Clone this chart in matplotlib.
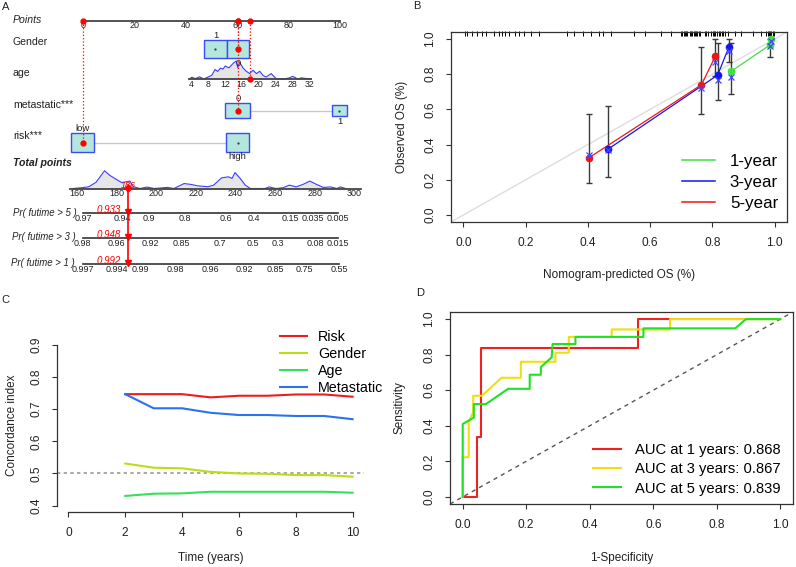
import numpy as np
import matplotlib.pyplot as plt
from matplotlib.lines import Line2D
from matplotlib.patches import Rectangle

plt.rcParams['font.family'] = ['Liberation Sans', 'DejaVu Sans']

W, H = 796, 567

# ---------------- A: nomogram ----------------
points_ticks = [0, 20, 40, 60, 80, 100]

gender_levels = ['1', '0']
gender_points = [51.6, 60.3]
gender_share = [0.5, 0.5]

age_ticks = [4, 8, 12, 16, 20, 24, 28, 32]
age_points_at_4, age_points_at_32 = 42.1, 88.0
age_grid = [3.6, 4.2, 5.0, 6.0, 7.0, 8.9, 9.7, 10.3, 11.0, 11.6, 12.1, 13.0, 14.0, 14.7, 15.1, 15.5,
            16.3, 17.1, 17.9, 18.7, 19.5, 20.3, 21.1, 21.8, 23.0, 24.2, 26.0, 27.3, 28.1, 29.3, 30.1, 32.5]
age_density = [0.0, 0.1, 0.02, 0.12, 0.0, 0.2, 0.53, 0.42, 0.6, 0.55, 0.72, 0.62, 0.87, 1.0, 0.62, 0.94,
               0.62, 0.43, 0.3, 0.49, 0.3, 0.43, 0.19, 0.11, 0.3, 0.02, 0.0, 0.06, 0.15, 0.0, 0.06, 0.0]

meta_levels = ['0', '1']
meta_points = [60.3, 99.8]
meta_share = [0.6, 0.2]

risk_levels = ['low', 'high']
risk_points = [0.0, 60.2]
risk_share = [0.5, 0.5]

total_ticks = [160, 180, 200, 220, 240, 260, 280, 300]
total_grid = [158, 163, 166, 169.6, 173.9, 176.5, 179, 182.5, 185, 186.7, 188.4, 191.9, 195.3, 199,
              205.6, 209, 214.1, 217.6, 221, 226.2, 229, 233, 236.5, 238.3, 239.8, 242.4, 245, 247.6,
              255, 257, 260.4, 264, 267.3, 270.7, 274.1, 277.6, 281, 284.4, 288, 291.3, 293, 295.6]
total_density = [0.0, 0.05, 0.1, 0.35, 1.0, 0.75, 0.57, 0.34, 0.38, 0.42, 0.1, 0.0, 0.08, 0.0,
                 0.06, 0.0, 0.28, 0.23, 0.15, 0.1, 0.19, 0.6, 0.66, 0.57, 0.9, 0.57, 0.19, 0.0,
                 0.0, 0.09, 0.0, 0.04, 0.19, 0.09, 0.23, 0.42, 0.23, 0.06, 0.09, 0.0, 0.09, 0.0]

pr5_labels = ['0.97', '0.94', '0.9', '0.8', '0.6', '0.4', '0.15', '0.035', '0.005']
pr5_total = [163.2, 183.0, 196.4, 214.5, 235.0, 249.4, 267.6, 279.2, 291.6]
pr3_labels = ['0.98', '0.96', '0.92', '0.85', '0.7', '0.5', '0.3', '0.08', '0.015']
pr3_total = [162.8, 180.1, 196.9, 212.9, 232.2, 248.7, 261.6, 280.2, 291.9]
pr1_labels = ['0.997', '0.994', '0.99', '0.98', '0.96', '0.92', '0.85', '0.75', '0.55']
pr1_total = [163.2, 180.1, 192.2, 209.9, 227.6, 244.3, 260.4, 274.7, 292.4]

patient_gender, patient_age, patient_meta, patient_risk = '0', 18, '0', 'low'
patient_prob = [0.933, 0.948, 0.992]   # 5, 3, 1 year

# ---------------- B: calibration ----------------
cal1_x = [0.86, 0.985, 0.988]
cal1_y = [0.816, 0.966, 1.0]
cal1_lo = [0.688, 0.90, 1.0]
cal1_hi = [0.975, 1.0, 1.0]
cal1_corr = [0.786, 0.96, 0.99]

cal3_x = [0.464, 0.817, 0.853]
cal3_y = [0.373, 0.795, 0.953]
cal3_lo = [0.218, 0.653, 0.868]
cal3_hi = [0.619, 0.975, 1.0]
cal3_corr = [0.37, 0.767, 0.93]

cal5_x = [0.404, 0.765, 0.81]
cal5_y = [0.326, 0.74, 0.903]
cal5_lo = [0.184, 0.572, 0.79]
cal5_hi = [0.574, 0.953, 1.0]
cal5_corr = [0.34, 0.72, 0.868]

rug_x = [0.006, 0.012, 0.028, 0.044, 0.060, 0.071, 0.098, 0.114, 0.125, 0.135, 0.146, 0.167, 0.178,
         0.195, 0.216, 0.243, 0.334, 0.356, 0.383, 0.410, 0.436, 0.447, 0.474, 0.549, 0.582, 0.635,
         0.668, 0.700, 0.704, 0.708, 0.712, 0.716, 0.720, 0.727, 0.731, 0.735, 0.740, 0.744, 0.748,
         0.752, 0.757, 0.761, 0.775, 0.780, 0.786, 0.797, 0.801, 0.806, 0.810, 0.815, 0.820, 0.825,
         0.830, 0.835, 0.840, 0.850, 0.872, 0.893, 0.931, 0.958, 0.974, 0.978, 0.982, 0.986, 0.990,
         0.994, 0.998]

# ---------------- C: C-index over time ----------------
years = [2, 3, 4, 5, 6, 7, 8, 9, 10]
cidx_risk = [0.747, 0.747, 0.747, 0.737, 0.742, 0.742, 0.746, 0.746, 0.739]
cidx_gender = [0.531, 0.518, 0.516, 0.505, 0.500, 0.499, 0.495, 0.495, 0.490]
cidx_age = [0.430, 0.437, 0.438, 0.443, 0.443, 0.443, 0.443, 0.443, 0.440]
cidx_meta = [0.747, 0.703, 0.703, 0.689, 0.682, 0.682, 0.679, 0.679, 0.669]

# ---------------- D: time-dependent ROC ----------------
roc1_fpr = [0, 0.045, 0.045, 0.059, 0.059, 0.551, 0.551, 1.0]
roc1_tpr = [0, 0, 0.339, 0.339, 0.839, 0.839, 1.0, 1.0]
roc3_fpr = [0, 0, 0.019, 0.019, 0.033, 0.033, 0.061, 0.122, 0.183, 0.183, 0.292, 0.292, 0.334, 0.334,
            0.469, 0.469, 0.653, 0.653, 1.0]
roc3_tpr = [0, 0.223, 0.223, 0.423, 0.476, 0.569, 0.569, 0.670, 0.670, 0.760, 0.760, 0.811, 0.811, 0.90,
            0.90, 0.942, 0.942, 1.0, 1.0]
roc5_fpr = [0, 0, 0.035, 0.035, 0.073, 0.143, 0.211, 0.211, 0.246, 0.246, 0.28, 0.283, 0.355, 0.355,
            0.569, 0.569, 0.858, 0.892, 1.0]
roc5_tpr = [0, 0.41, 0.446, 0.522, 0.522, 0.608, 0.608, 0.687, 0.687, 0.730, 0.785, 0.86, 0.86, 0.90,
            0.90, 0.948, 0.948, 1.0, 1.0]
auc_labels = ['AUC at 1 years: 0.868', 'AUC at 3 years: 0.867', 'AUC at 5 years: 0.839']

# =====================================================================
fig = plt.figure(figsize=(W / 100, H / 100), dpi=100)


def px_axes(left, top, right, bottom):
    return fig.add_axes([left / W, 1 - bottom / H, (right - left) / W, (bottom - top) / H])


def r_style(ax, xt, xl, yt, yl):
    ax.set_xticks(xt, xl)
    ax.set_yticks(yt, yl)
    for s in ax.spines.values():
        s.set_color('#333333')
        s.set_linewidth(0.9)
    ax.tick_params(length=3.5, width=0.8, colors='#333333', labelsize=8.6, pad=7,
                   labelcolor='#222222')
    ax.tick_params(axis='y', labelrotation=90)
    for lab in ax.get_yticklabels():
        lab.set_va('center')


red = '#FF0000'
txt = '#222222'
axis_col = '#444444'

# ---- panel A ----
ax = px_axes(0, 0, 400, 280)
ax.set_xlim(0, 400)
ax.set_ylim(280, 0)
ax.axis('off')


def x_pts(p):
    return 82.7 + 2.573 * np.asarray(p, float)


def age_to_pts(a):
    return age_points_at_4 + (np.asarray(a, float) - 4) * (age_points_at_32 - age_points_at_4) / 28


def x_tot(t):
    return 77 + 1.98 * (np.asarray(t, float) - 160)


lab_kw = dict(fontsize=7.6, color=txt, va='center', ha='left')
tick_kw = dict(fontsize=6.5, color=txt, ha='center', va='top')

points_y = 21
ax.text(13, 20, 'Points', style='italic', **lab_kw)
ax.plot(x_pts([0, 100]), [points_y, points_y], color=axis_col, lw=1.3)
for t in points_ticks:
    ax.text(x_pts(t), points_y + 0.5, str(t), **tick_kw)


def factor_row(label, y_lab, y_box, levels, pts, share, hmax):
    ax.text(13, y_lab, label, **lab_kw)
    xs = x_pts(pts)
    ax.plot([xs.min(), xs.max()], [y_box, y_box], color='#C8C8C8', lw=1, zorder=1)
    for i, (lev, x, s) in enumerate(zip(levels, xs, share)):
        w = 32 * np.sqrt(s)
        h = min(26 * np.sqrt(s), hmax)
        ax.add_patch(Rectangle((x - w / 2, y_box - h / 2), w, h, fc='#B3E6DD', ec='#3A4CF2',
                               lw=1, zorder=2))
        ax.plot(x, y_box, marker='.', ms=1.2, color='#333333', zorder=3)
        if i % 2 == 0:
            ax.text(x, y_box - h / 2 - 0.3, lev, ha='center', va='bottom', fontsize=6.8, color=txt)
        else:
            ax.text(x, y_box + h / 2 + 0.3, lev, ha='center', va='top', fontsize=6.8, color=txt,
                    zorder=4)


gender_y, meta_y, risk_y, age_y = 49.2, 110.5, 142.5, 79
factor_row('Gender', 42, gender_y, gender_levels, gender_points, gender_share, 20)
factor_row('metastatic***', 105, meta_y, meta_levels, meta_points, meta_share, 15)
factor_row('risk***', 136, risk_y, risk_levels, risk_points, risk_share, 20)

# age axis with density
ax.text(13, 73, 'age', **lab_kw)
ax_x = x_pts(age_to_pts(age_grid))
dens_y = age_y - 18 * np.asarray(age_density)
ax.fill_between(ax_x, age_y, dens_y, color='#E6E6E6', lw=0)
ax.plot(ax_x, dens_y, color='#3B3BFF', lw=0.8)
ax.plot(x_pts(age_to_pts([age_grid[0], age_grid[-1]])), [age_y, age_y], color=axis_col, lw=1.3)
for t in age_ticks:
    ax.text(x_pts(age_to_pts(t)), age_y + 0.8, str(t), fontsize=6.3, color=txt, ha='center', va='top')

# selected patient
sel = [(gender_points[gender_levels.index(patient_gender)], gender_y),
       (float(age_to_pts(patient_age)), age_y),
       (meta_points[meta_levels.index(patient_meta)], meta_y),
       (risk_points[risk_levels.index(patient_risk)], risk_y)]
for p, y in sel:
    ax.plot([x_pts(p)] * 2, [points_y, y], color=red, ls=':', lw=0.9, zorder=4)
    ax.plot(x_pts(p), y, 'o', color=red, ms=3.5, zorder=5)
    ax.plot(x_pts(p), points_y, 'o', color=red, ms=3.5, zorder=5)
patient_total = sum(p for p, _ in sel)

# total points
total_y = 189
ax.text(13, 163, 'Total points', style='italic', weight='bold', **lab_kw)
tx = x_tot(total_grid)
ty = total_y - 0.5 - 17.7 * np.asarray(total_density)
ax.fill_between(tx, total_y - 0.5, ty, color='#E6E6E6', lw=0)
ax.plot(tx, ty, color='#3B3BFF', lw=0.8)
ax.plot(x_tot([156.5, 303.5]), [total_y, total_y], color=axis_col, lw=1.3)
for t in total_ticks:
    ax.text(x_tot(t), total_y + 0.5, str(t), **tick_kw)

# probability axes
pr_rows = [('Pr( futime > 5 )', 213, pr5_labels, pr5_total, 77),
           ('Pr( futime > 3 )', 238, pr3_labels, pr3_total, 76),
           ('Pr( futime > 1 )', 264, pr1_labels, pr1_total, 74.5)]
px_total = float(x_tot(patient_total))
ax.plot([px_total, px_total], [total_y - 1, pr_rows[-1][1]], color=red, lw=1.2, zorder=5)
ax.plot(px_total, total_y - 1, 'D', color=red, ms=3.5, zorder=6)
ax.text(px_total, total_y - 3, f'{patient_total:.0f}', color=red, fontsize=6.5, style='italic',
        ha='center', va='center', zorder=6)
for (name, y, labs, pos, right), prob in zip(pr_rows, patient_prob):
    ax.text(right, y - 0.5, name, fontsize=6.9, style='italic', color=txt, ha='right', va='center')
    ax.plot(x_tot([pos[0], pos[-1]]), [y, y], color='#333333', lw=1.2)
    for lab, t in zip(labs, pos):
        ax.text(x_tot(t), y + 1, lab, fontsize=6.5, color=txt, ha='center', va='top')
    ax.plot(px_total, y - 1, 'v', color=red, ms=5, zorder=6)
    ax.text(px_total - 6.5, y - 3, f'{prob:.3f}', color=red, fontsize=7, style='italic',
            ha='right', va='center')

# ---- panel B ----
axb = px_axes(451, 32, 787, 222)
axb.set_xlim(-0.04, 1.04)
axb.set_ylim(-0.04, 1.04)
ticks = [0, 0.2, 0.4, 0.6, 0.8, 1.0]
tick_lab = [f'{t:.1f}' for t in ticks]
r_style(axb, ticks, tick_lab, ticks, tick_lab)
axb.axline((0, 0), (1, 1), color='#DDDDDD', lw=1, zorder=1)
axb.vlines(rug_x, 0.978, 1.006, transform=axb.get_xaxis_transform(), color='black', lw=0.7,
           clip_on=False)
cal_sets = [(cal1_x, cal1_y, cal1_lo, cal1_hi, cal1_corr, '#3FE03F', '1-year'),
            (cal3_x, cal3_y, cal3_lo, cal3_hi, cal3_corr, '#1515F0', '3-year'),
            (cal5_x, cal5_y, cal5_lo, cal5_hi, cal5_corr, '#F01515', '5-year')]
handles = []
for xs, ys, lo, hi, corr, col, name in cal_sets:
    ys_a = np.asarray(ys)
    axb.errorbar(xs, ys, yerr=[ys_a - lo, np.asarray(hi) - ys_a], fmt='none', ecolor='#3A3A3A',
                 elinewidth=1, capsize=2.5, capthick=1, zorder=2)
    axb.plot(xs, ys, color=col, lw=0.9, zorder=3)
    axb.plot(xs, ys, 'o', color=col, ms=4.5, zorder=4)
    axb.plot(xs, corr, 'x', color='#4646FF', ms=4.5, mew=0.9, zorder=5)
    handles.append(Line2D([], [], color=col, lw=1.1, label=name))
axb.legend(handles=handles, loc='upper left', bbox_to_anchor=(0.6875, 0.357), frameon=False,
           fontsize=12.2, handlelength=1.94, handletextpad=0.88, labelspacing=0.335, borderpad=0,
           borderaxespad=0)
axb.set_xlabel('Nomogram-predicted OS (%)', fontsize=8.5, color=txt)
axb.set_ylabel('Observed OS (%)', fontsize=8.5, color=txt)
axb.xaxis.set_label_coords(0.5, -0.245)
axb.yaxis.set_label_coords(-0.128, 0.5)

# ---- panel C ----
axc = px_axes(57, 338.6, 364, 512)
axc.set_xlim(-0.4, 10.4)
axc.set_ylim(0.38, 0.92)
xt = [0, 2, 4, 6, 8, 10]
yt = [0.4, 0.5, 0.6, 0.7, 0.8, 0.9]
r_style(axc, xt, [str(t) for t in xt], yt, [f'{t:.1f}' for t in yt])
axc.spines['top'].set_visible(False)
axc.spines['right'].set_visible(False)
axc.spines['left'].set_bounds(0.4, 0.9)
axc.spines['bottom'].set_bounds(0, 10)
axc.axhline(0.5, color='#AAAAAA', lw=1.5, ls=(0, (1.6, 1.6)))
for vals, col, name in [(cidx_risk, '#F21C1C', 'Risk'), (cidx_gender, '#BEDC14', 'Gender'),
                        (cidx_age, '#35E05C', 'Age'), (cidx_meta, '#2A72EE', 'Metastatic')]:
    axc.plot(years, vals, color=col, lw=1.5, label=name)
axc.legend(loc='upper left', bbox_to_anchor=(0.7264, 1.047), frameon=False, fontsize=10.3,
           handlelength=1.9, handletextpad=0.77, labelspacing=0.21, borderpad=0, borderaxespad=0)
axc.set_xlabel('Time (years)', fontsize=8.5, color=txt)
axc.set_ylabel('Concordance index', fontsize=8.5, color=txt)
axc.xaxis.set_label_coords(0.5, -0.232)
axc.yaxis.set_label_coords(-0.126, 0.5)

# ---- panel D ----
axd = px_axes(450, 312, 793, 504)
axd.set_xlim(-0.04, 1.04)
axd.set_ylim(-0.04, 1.04)
r_style(axd, ticks, tick_lab, ticks, tick_lab)
axd.axline((0, 0), (1, 1), color='#555555', lw=1, ls=(0, (3, 3)), zorder=1)
for fpr, tpr, col, name in [(roc1_fpr, roc1_tpr, '#F22020', auc_labels[0]),
                            (roc3_fpr, roc3_tpr, '#EEE010', auc_labels[1]),
                            (roc5_fpr, roc5_tpr, '#22E022', auc_labels[2])]:
    axd.plot(fpr, tpr, color=col, lw=1.5, label=name)
axd.legend(loc='upper left', bbox_to_anchor=(0.4178, 0.319), frameon=False, fontsize=10.6,
           handlelength=1.9, handletextpad=0.9, labelspacing=0.37, borderpad=0, borderaxespad=0)
axd.set_xlabel('1-Specificity', fontsize=8.5, color=txt)
axd.set_ylabel('Sensitivity', fontsize=8.5, color=txt)
axd.xaxis.set_label_coords(0.5, -0.25)
axd.yaxis.set_label_coords(-0.131, 0.5)

# panel letters
for letter, x, y in [('A', 5.5, 6.5), ('B', 417, 6), ('C', 5, 300), ('D', 420, 293)]:
    fig.text(x / W, 1 - y / H, letter, fontsize=8, color=txt, ha='center', va='center')

fig.savefig('out.png', dpi=100)
